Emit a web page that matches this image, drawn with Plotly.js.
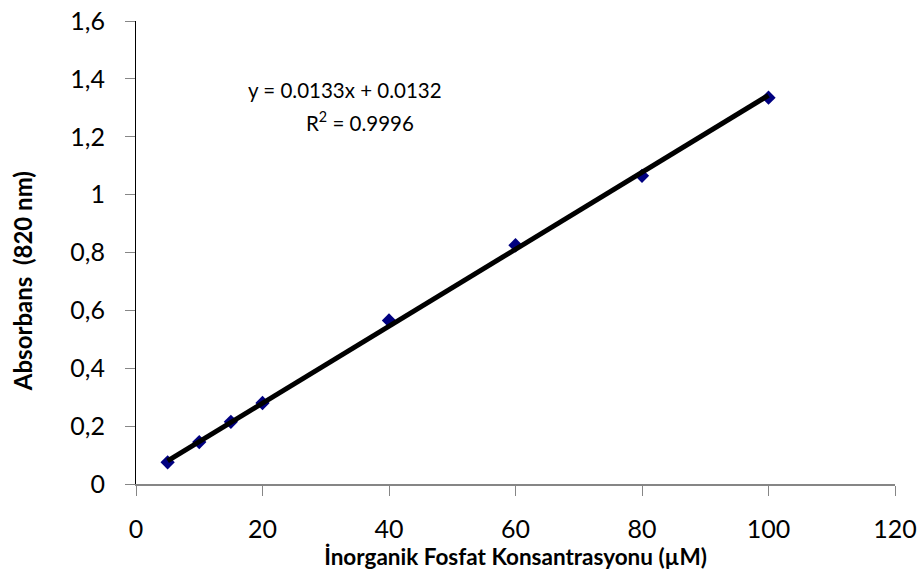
<!DOCTYPE html>
<html>
<head>
<meta charset="utf-8">
<script src="https://cdn.plot.ly/plotly-3.0.1.min.js"></script>
<style>html,body{margin:0;padding:0;background:#fff;}#chart{width:918px;height:572px;}</style>
</head>
<body>
<div id="chart"></div>
<script>
// Data
const concentration = [5, 10, 15, 20, 40, 60, 80, 100];
const absorbance = [0.075, 0.145, 0.215, 0.28, 0.565, 0.825, 1.065, 1.335];
const trendSlope = 0.0133;
const trendIntercept = 0.0132;
const xTicks = [0, 20, 40, 60, 80, 100, 120];
const yTicks = [0, 0.2, 0.4, 0.6, 0.8, 1, 1.2, 1.4, 1.6];
const yTickLabels = ["0", "0,2", "0,4", "0,6", "0,8", "1", "1,2", "1,4", "1,6"];
const equationText = "y = 0.0133x + 0.0132";
const r2Text = "R<sup>2</sup> = 0.9996";
const xTitle = "İnorganik Fosfat Konsantrasyonu (µM)";
const yTitle = "Absorbans  (820 nm)";

const xMin = Math.min(...concentration), xMax = Math.max(...concentration);
const trendX = [xMin, xMax];
const trendY = trendX.map(x => trendSlope * x + trendIntercept);

const font = "Lato, 'Open Sans', sans-serif";

const data = [
  {
    x: concentration, y: absorbance, type: 'scatter', mode: 'markers',
    marker: {symbol: 'diamond', size: 11, color: '#000080'},
    hoverinfo: 'skip'
  },
  {
    x: trendX, y: trendY, type: 'scatter', mode: 'lines',
    line: {color: '#000000', width: 5},
    hoverinfo: 'skip'
  }
];

const layout = {
  width: 918, height: 572,
  margin: {l: 136, r: 23, t: 21, b: 88},
  paper_bgcolor: '#ffffff', plot_bgcolor: '#ffffff',
  showlegend: false,
  separators: ', ',
  font: {family: font, color: '#000000', size: 20},
  xaxis: {
    range: [0, 120], tickvals: xTicks, ticktext: xTicks.map(String),
    showgrid: false, zeroline: false,
    showline: true, linecolor: '#868686', linewidth: 2,
    ticks: 'outside', ticklen: 10, tickcolor: '#868686', tickwidth: 1,
    ticklabelstandoff: 12,
    tickfont: {family: font, size: 25, color: '#000'},
    title: {text: '<b>' + xTitle + '</b>', font: {family: font, size: 22.5, color: '#000'}, standoff: 2}
  },
  yaxis: {
    range: [0, 1.6], tickvals: yTicks, ticktext: yTickLabels,
    showgrid: false, zeroline: false,
    showline: true, linecolor: '#000000', linewidth: 1,
    ticks: 'outside', ticklen: 10, tickcolor: '#868686', tickwidth: 1,
    ticklabelstandoff: 15,
    tickfont: {family: font, size: 25, color: '#000'}
  },
  annotations: [
    {x: 33, y: 1.361, xref: 'x', yref: 'y', text: equationText, showarrow: false,
     font: {family: font, size: 20.5, color: '#000'}, xanchor: 'center', yanchor: 'middle'},
    {x: 35.4, y: 1.251, xref: 'x', yref: 'y', text: r2Text, showarrow: false,
     font: {family: font, size: 20.5, color: '#000'}, xanchor: 'center', yanchor: 'middle'},
    {x: -0.150, y: 0.4384, xref: 'paper', yref: 'paper', text: '<b>' + yTitle + '</b>', showarrow: false,
     textangle: -90, font: {family: font, size: 24, color: '#000'}, xanchor: 'center', yanchor: 'middle'}
  ]
};

Plotly.newPlot('chart', data, layout, {displayModeBar: false, staticPlot: true});
</script>
</body>
</html>
